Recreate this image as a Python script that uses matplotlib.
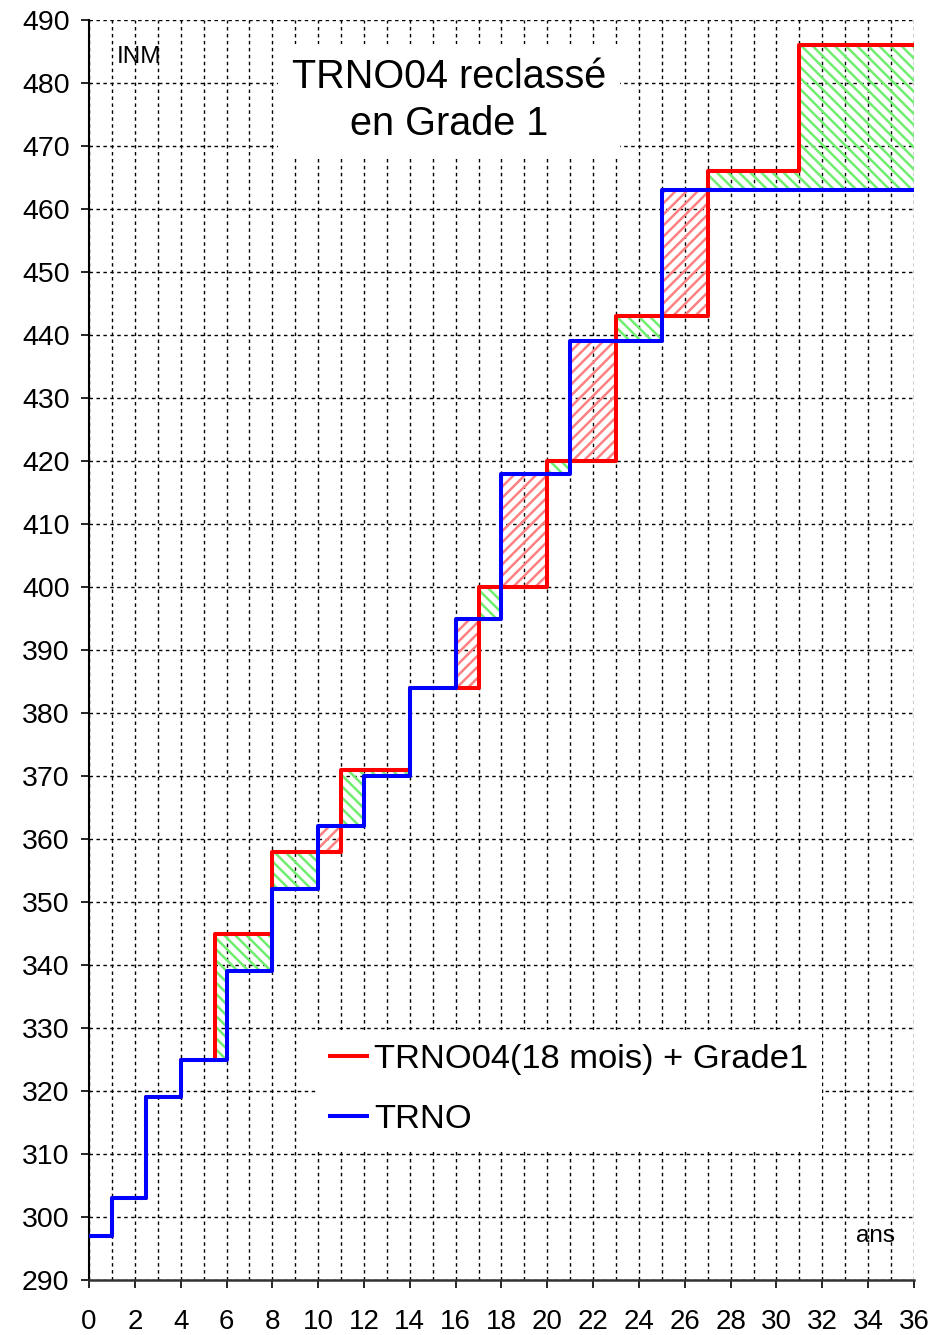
import numpy as np
import matplotlib.pyplot as plt
from matplotlib.ticker import MultipleLocator

plt.rcParams['font.family'] = ['Liberation Sans', 'DejaVu Sans']
plt.rcParams['hatch.linewidth'] = 1.8

# Données : indice (INM) en fonction des années
trno_x = [0, 1, 2.5, 4, 6, 8, 10, 12, 14, 16, 18, 21, 25, 36]
trno_y = [297, 303, 319, 325, 339, 352, 362, 370, 384, 395, 418, 439, 463, 463]

grade1_x = [0, 1, 2.5, 4, 5.5, 8, 11, 14, 17, 20, 23, 27, 31, 36]
grade1_y = [297, 303, 319, 325, 345, 358, 371, 384, 400, 420, 443, 466, 486, 486]

x_ticks = list(range(0, 37, 2))
y_ticks = list(range(290, 491, 10))

fig = plt.figure(figsize=(9.31, 13.35), dpi=100)
ax = fig.add_axes([89/931, 55/1335, 825/931, 1260/1335])

# Zones hachurées entre les deux courbes
def step_val(xs, ys, x):
    i = np.searchsorted(xs, x, side='right') - 1
    return ys[i]

bords = sorted(set(trno_x) | set(grade1_x))
for a, b in zip(bords[:-1], bords[1:]):
    r = step_val(grade1_x, grade1_y, a)
    t = step_val(trno_x, trno_y, a)
    if r == t:
        continue
    if r > t:
        col, hat = '#70ee70', '\\\\\\'
    else:
        col, hat = '#ff8080', '///'
    ax.fill_between([a, b], min(r, t), max(r, t), facecolor='none',
                    edgecolor=col, hatch=hat, linewidth=0, zorder=2)

ax.step(grade1_x, grade1_y, where='post', color='red', lw=2.9,
        label='TRNO04(18 mois) + Grade1', zorder=3)
ax.step(trno_x, trno_y, where='post', color='blue', lw=2.9,
        label='TRNO', zorder=4)

ax.set_xlim(0, 36)
ax.set_ylim(290, 490)
ax.set_xticks(x_ticks)
ax.xaxis.set_minor_locator(MultipleLocator(1))
ax.set_yticks(y_ticks)

ax.grid(True, which='both', axis='x', color='black', lw=1, linestyle=(0, (2.5, 2.5)))
ax.grid(True, which='major', axis='y', color='black', lw=1, linestyle=(0, (2.5, 2.5)))
ax.set_axisbelow(True)

ax.tick_params(axis='y', which='major', direction='out', length=6, width=1.2,
               labelsize=20.5, pad=8)
ax.tick_params(axis='x', which='major', direction='out', length=6, width=1.2,
               labelsize=20, pad=15)
ax.tick_params(axis='x', which='minor', length=0)

for s in ['top', 'right']:
    ax.spines[s].set_visible(False)
ax.spines['left'].set_linewidth(1.5)
ax.spines['bottom'].set_linewidth(1.8)
ax.spines['bottom'].set_color('#333333')

ax.text(2.2, 484.2, 'INM', fontsize=17.5, ha='center', va='center')
ax.text(34.3, 297, 'ans', fontsize=17.5, ha='center', va='center')
ax.text(15.7, 477.3, 'TRNO04 reclassé\nen Grade 1', fontsize=28.5, ha='center',
        va='center', linespacing=1.3,
        bbox=dict(boxstyle='square,pad=0.35', facecolor='white', edgecolor='none'))

leg = ax.legend(loc='center', bbox_to_anchor=(0.582, 0.151), fontsize=24.8,
                handlelength=1.07, handletextpad=0.23, labelspacing=0.85,
                frameon=True, fancybox=False, framealpha=1, borderpad=0.4)
leg.get_frame().set_facecolor('white')
leg.get_frame().set_edgecolor('none')
leg.set_zorder(5)

plt.savefig('out.png', dpi=100)
